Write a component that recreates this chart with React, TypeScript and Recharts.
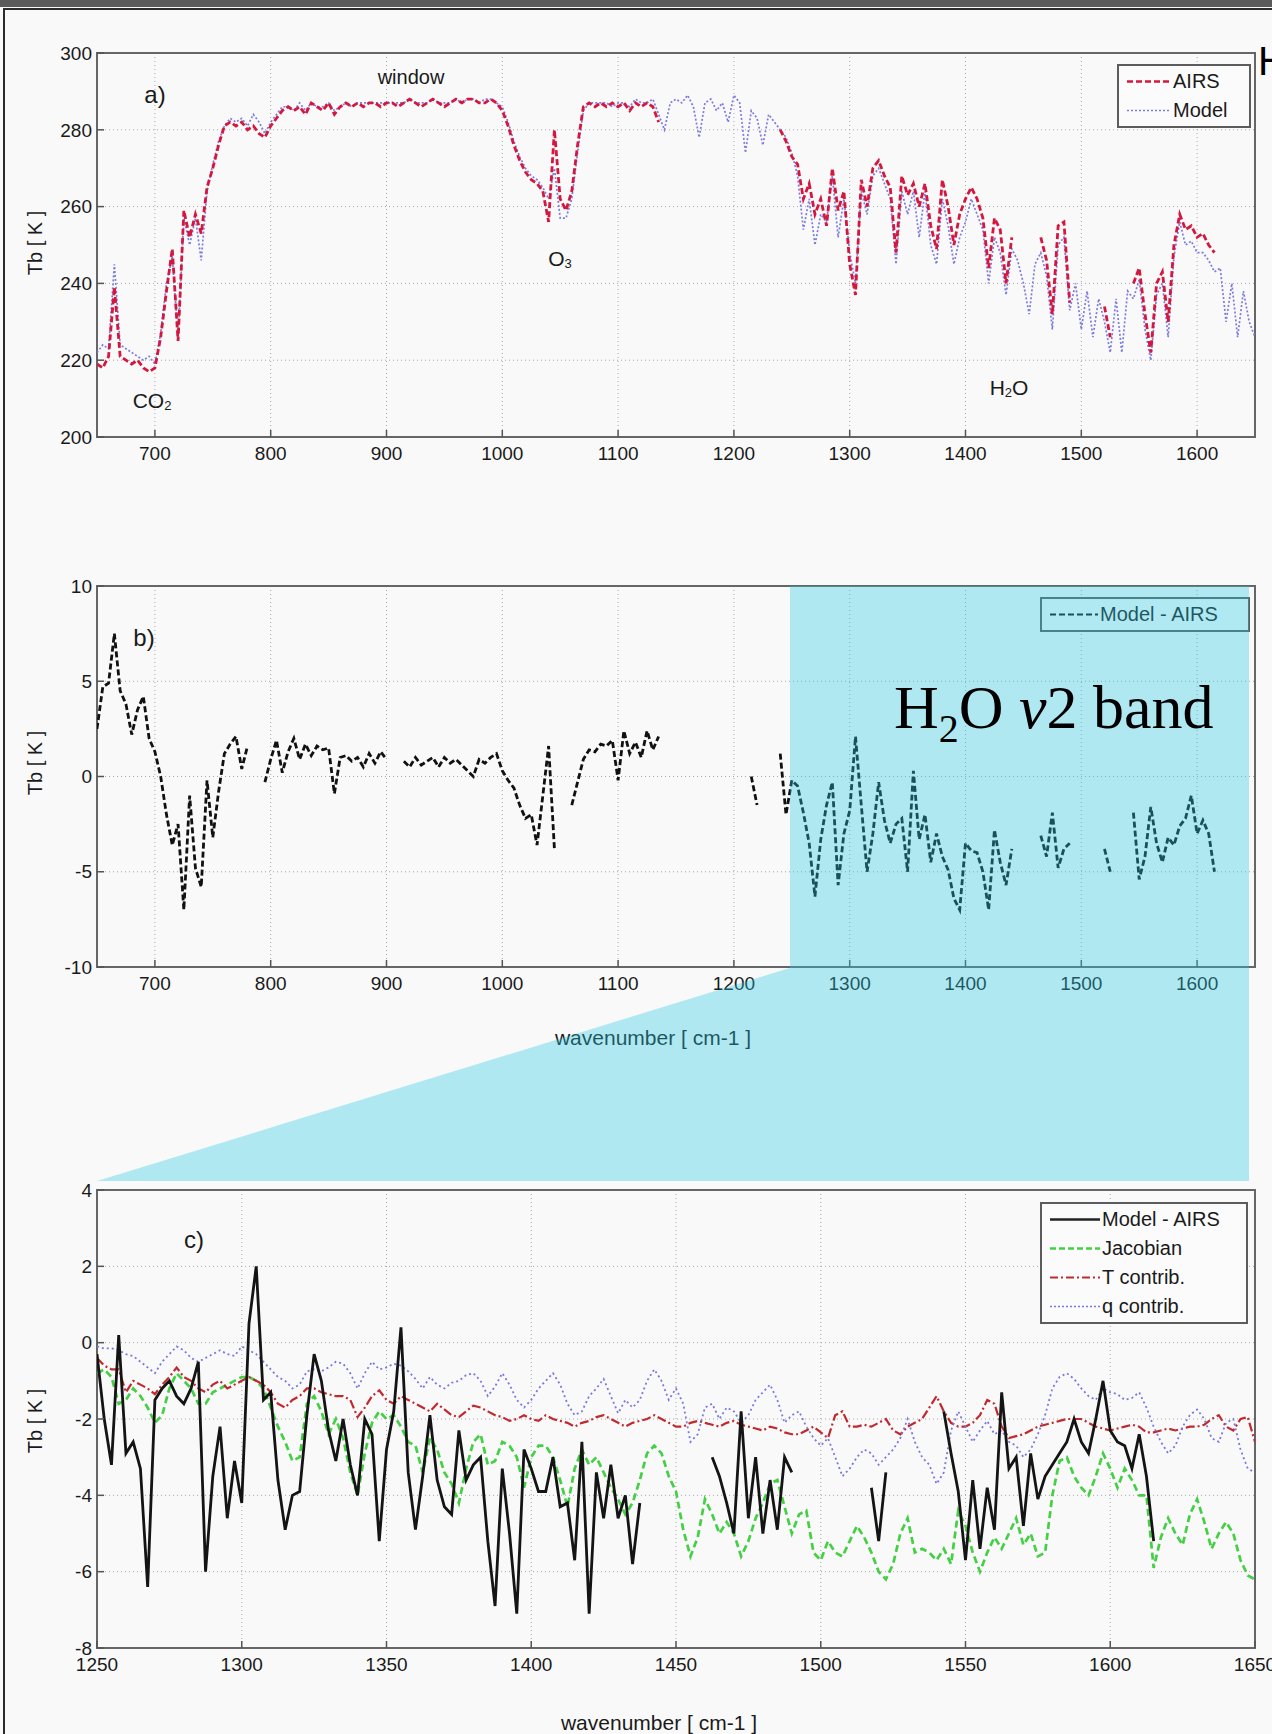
import React from "react";
import {
  LineChart,
  Line,
  XAxis,
  YAxis,
  CartesianGrid,
  ReferenceArea,
  Legend,
} from "recharts";

const FONT = '"Liberation Sans", Arial, Helvetica, sans-serif';
const SERIF = '"Liberation Serif", "Times New Roman", serif';

// ---------- panels a) and b): wavenumber grid (cm-1) ----------
const waveAB = [
  650, 655, 660, 665, 670, 675, 680, 685, 690, 695,
  700, 705, 710, 715, 720, 725, 730, 735, 740, 745,
  750, 755, 760, 765, 770, 775, 780, 785, 790, 795,
  800, 805, 810, 815, 820, 825, 830, 835, 840, 845,
  850, 855, 860, 865, 870, 875, 880, 885, 890, 895,
  900, 905, 910, 915, 920, 925, 930, 935, 940, 945,
  950, 955, 960, 965, 970, 975, 980, 985, 990, 995,
  1000, 1005, 1010, 1015, 1020, 1025, 1030, 1035, 1040, 1045,
  1050, 1055, 1060, 1065, 1070, 1075, 1080, 1085, 1090, 1095,
  1100, 1105, 1110, 1115, 1120, 1125, 1130, 1135, 1140, 1145,
  1150, 1155, 1160, 1165, 1170, 1175, 1180, 1185, 1190, 1195,
  1200, 1205, 1210, 1215, 1220, 1225, 1230, 1235, 1240, 1245,
  1250, 1255, 1260, 1265, 1270, 1275, 1280, 1285, 1290, 1295,
  1300, 1305, 1310, 1315, 1320, 1325, 1330, 1335, 1340, 1345,
  1350, 1355, 1360, 1365, 1370, 1375, 1380, 1385, 1390, 1395,
  1400, 1405, 1410, 1415, 1420, 1425, 1430, 1435, 1440, 1445,
  1450, 1455, 1460, 1465, 1470, 1475, 1480, 1485, 1490, 1495,
  1500, 1505, 1510, 1515, 1520, 1525, 1530, 1535, 1540, 1545,
  1550, 1555, 1560, 1565, 1570, 1575, 1580, 1585, 1590, 1595,
  1600, 1605, 1610, 1615, 1620, 1625, 1630, 1635, 1640, 1645,
  1650,
];

// a) brightness temperature [K]
const airsTb = [
  219, 218, 221, 239, 221, 220, 219, 220, 218, 217,
  218, 226, 238, 249, 225, 259, 252, 258, 253, 265,
  270, 276, 281, 282, 281, 282, 280, 281, 279, 278,
  281, 283, 285, 286, 285, 286, 284, 287, 286, 285,
  287, 284, 286, 287, 286, 287, 286, 287, 287, 286,
  287, 287, 286, 287, 288, 287, 286, 287, 288, 287,
  286, 287, 288, 287, 288, 288, 287, 287, 288, 287,
  285, 281, 276, 272, 269, 267, 266, 264, 256, 280,
  262, 259, 264, 276, 286, 287, 286, 287, 286, 287,
  286, 287, 285, 287, 286, 287, 286, 282, null, null,
  null, null, null, null, null, null, null, null, null, null,
  null, null, null, null, null, null, null, null, 280, 277,
  273, 271, 262, 266, 258, 262, 255, 270, 259, 264,
  245, 237, 267, 260, 270, 272, 268, 265, 248, 268,
  263, 266, 260, 266, 255, 249, 267, 260, 250, 258,
  262, 265, 262, 257, 244, 257, 254, 240, 252, null,
  null, null, null, 252, 246, 232, 255, 256, 235, null,
  null, null, null, null, 234, 226, null, null, null, 240,
  244, 232, 222, 240, 243, 230, 250, 258, 254, 255,
  252, 253, 250, 248, null, null, null, null, null, null,
  null,
];

const modelTb = [
  222, 224, 223, 245, 224, 223, 222, 221, 220, 221,
  219, 227, 240, 247, 226, 257, 250, 257, 246, 264,
  271, 277, 281, 283, 282, 283, 281, 284, 282, 279,
  282, 284, 286, 286, 285, 287, 285, 287, 286, 286,
  287, 285, 286, 287, 286, 287, 287, 287, 287, 287,
  287, 287, 287, 287, 288, 287, 287, 287, 288, 287,
  287, 287, 288, 287, 288, 288, 287, 288, 288, 287,
  286, 282, 277, 273, 270, 268, 267, 265, 262, 270,
  257, 257, 262, 274, 285, 287, 287, 287, 287, 286,
  287, 287, 286, 288, 287, 287, 288, 284, 280, 287,
  288, 287, 289, 286, 278, 287, 288, 285, 287, 282,
  289, 287, 274, 285, 283, 276, 284, 282, 280, 278,
  274, 268, 254, 262, 250, 258, 256, 268, 252, 262,
  248, 240, 264, 258, 268, 270, 266, 262, 245, 264,
  258, 264, 252, 264, 250, 245, 262, 255, 245, 252,
  256, 262, 258, 254, 240, 252, 248, 237, 249, 246,
  240, 232, 245, 248, 242, 228, 250, 252, 233, 240,
  228, 238, 226, 236, 230, 222, 236, 222, 238, 236,
  241, 228, 220, 237, 240, 226, 247, 256, 250, 251,
  248, 248, 246, 243, 244, 230, 240, 226, 238, 230,
  226,
];

// b) Model - AIRS [K]
const diffB = [
  2.5, 4.7, 4.9, 7.5, 4.5, 3.8, 2.2, 3.5, 4.2, 2.0,
  1.3, 0.0, -2.0, -3.6, -2.5, -7.0, -1.0, -4.8, -5.8, -0.2,
  -3.2, -0.8, 1.2, 1.7, 2.1, 0.4, 1.6, null, null, -0.3,
  0.9, 1.9, 0.2, 1.3, 2.0, 0.9, 1.7, 1.1, 1.6, 1.4,
  1.5, -0.9, 1.0, 1.1, 0.8, 1.0, 0.5, 1.2, 0.7, 1.3,
  0.9, null, null, 0.8, 0.5, 1.0, 0.6, 0.8, 1.0, 0.5,
  1.0, 0.7, 0.9, 0.6, 0.3, 0.0, 0.9, 0.7, 1.0, 1.2,
  0.3, -0.2, -0.6, -1.5, -2.2, -2.0, -3.6, -1.0, 1.6, -3.8,
  null, null, -1.5, -0.3, 0.9, 1.4, 1.3, 1.7, 1.6, 1.9,
  -0.2, 2.4, 1.2, 1.8, 1.0, 2.4, 1.4, 2.1, null, null,
  null, null, null, null, null, null, null, null, null, null,
  null, null, null, 0.0, -1.5, null, null, null, 1.2, -2.0,
  -0.2, -0.5, -1.9, -3.5, -6.3, -3.3, -1.5, -0.3, -5.7, -3.0,
  -1.8, 2.1, -1.5, -5.0, -3.0, -0.3, -2.3, -3.5, -2.5, -2.2,
  -5.0, 0.3, -3.3, -2.0, -4.5, -3.0, -4.2, -4.9, -6.4, -7.0,
  -3.5, -3.9, -4.0, -5.0, -7.0, -2.8, -4.5, -5.7, -3.8, null,
  null, null, null, -3.1, -4.2, -1.9, -4.8, -3.8, -3.5, null,
  null, null, null, null, -3.8, -5.0, null, null, null, -1.9,
  -5.4, -4.2, -1.6, -3.5, -4.5, -3.2, -3.6, -2.6, -2.2, -1.0,
  -3.0, -2.3, -3.0, -5.0, null, null, null, null, null, null,
  null,
];

// ---------- panel c): H2O v2 band zoom ----------
const waveC = [
  1250, 1252.5, 1255, 1257.5, 1260, 1262.5, 1265, 1267.5, 1270, 1272.5,
  1275, 1277.5, 1280, 1282.5, 1285, 1287.5, 1290, 1292.5, 1295, 1297.5,
  1300, 1302.5, 1305, 1307.5, 1310, 1312.5, 1315, 1317.5, 1320, 1322.5,
  1325, 1327.5, 1330, 1332.5, 1335, 1337.5, 1340, 1342.5, 1345, 1347.5,
  1350, 1352.5, 1355, 1357.5, 1360, 1362.5, 1365, 1367.5, 1370, 1372.5,
  1375, 1377.5, 1380, 1382.5, 1385, 1387.5, 1390, 1392.5, 1395, 1397.5,
  1400, 1402.5, 1405, 1407.5, 1410, 1412.5, 1415, 1417.5, 1420, 1422.5,
  1425, 1427.5, 1430, 1432.5, 1435, 1437.5, 1440, 1442.5, 1445, 1447.5,
  1450, 1452.5, 1455, 1457.5, 1460, 1462.5, 1465, 1467.5, 1470, 1472.5,
  1475, 1477.5, 1480, 1482.5, 1485, 1487.5, 1490, 1492.5, 1495, 1497.5,
  1500, 1502.5, 1505, 1507.5, 1510, 1512.5, 1515, 1517.5, 1520, 1522.5,
  1525, 1527.5, 1530, 1532.5, 1535, 1537.5, 1540, 1542.5, 1545, 1547.5,
  1550, 1552.5, 1555, 1557.5, 1560, 1562.5, 1565, 1567.5, 1570, 1572.5,
  1575, 1577.5, 1580, 1582.5, 1585, 1587.5, 1590, 1592.5, 1595, 1597.5,
  1600, 1602.5, 1605, 1607.5, 1610, 1612.5, 1615, 1617.5, 1620, 1622.5,
  1625, 1627.5, 1630, 1632.5, 1635, 1637.5, 1640, 1642.5, 1645, 1647.5,
  1650,
];

const diffC = [
  -0.3, -2.0, -3.2, 0.2, -2.9, -2.6, -3.3, -6.4, -1.5, -1.2,
  -1.0, -1.4, -1.6, -1.2, -0.5, -6.0, -3.5, -2.2, -4.6, -3.1,
  -4.2, 0.5, 2.0, -1.5, -1.3, -3.6, -4.9, -4.0, -3.9, -1.9,
  -0.3, -1.0, -2.3, -3.1, -2.0, -3.2, -4.0, -2.0, -2.4, -5.2,
  -2.8, -1.8, 0.4, -3.4, -4.9, -3.5, -1.9, -3.6, -4.3, -4.5,
  -2.3, -3.6, -3.2, -3.0, -5.2, -6.9, -3.3, -5.0, -7.1, -2.8,
  -3.3, -3.9, -3.9, -3.0, -4.3, -4.2, -5.7, -2.6, -7.1, -3.4,
  -4.6, -3.2, -4.6, -4.0, -5.8, -4.2, null, null, null, null,
  null, null, null, null, null, -3.0, -3.5, -4.2, -5.0, -1.8,
  -4.6, -3.0, -5.0, -3.6, -4.9, -3.0, -3.4, null, null, null,
  null, null, null, null, null, null, null, -3.8, -5.2, -3.4,
  null, null, null, null, null, null, null, -1.8, -2.9, -3.9,
  -5.7, -3.6, -5.4, -3.8, -4.9, -1.3, -3.3, -3.0, -4.8, -2.9,
  -4.1, -3.5, -3.2, -2.9, -2.6, -2.0, -2.6, -2.9, -2.0, -1.0,
  -2.3, -2.6, -2.7, -3.3, -2.4, -3.5, -5.2, null, null, null,
  null, null, null, null, null, null, null, null, null, null,
  null,
];

const jacobianC = [
  -0.8, -0.7, -0.9, -1.6, -1.5, -1.2, -1.4, -1.7, -2.1, -1.9,
  -1.2, -0.8, -1.0, -1.2, -1.6, -1.6, -1.3, -1.2, -1.1, -1.0,
  -0.9, -0.9, -1.0, -1.2, -1.7, -2.2, -2.6, -3.1, -3.0, -1.6,
  -1.4, -1.8, -2.4, -2.0, -2.5, -3.4, -4.0, -2.9, -2.1, -1.8,
  -2.0, -1.9, -2.2, -2.6, -2.7, -3.4, -2.5, -2.8, -3.4, -3.7,
  -4.2, -3.3, -2.6, -2.4, -3.2, -3.1, -2.6, -2.7, -3.0, -3.8,
  -3.0, -2.7, -2.7, -3.0, -3.6, -4.3, -3.3, -2.8, -3.2, -3.0,
  -3.4, -3.8, -4.1, -4.5, -4.2, -3.6, -2.9, -2.7, -2.9, -3.5,
  -3.9, -4.9, -5.6, -5.1, -4.1, -4.5, -5.0, -4.7, -5.0, -5.6,
  -5.2, -4.6, -4.2, -3.7, -3.6, -4.3, -5.0, -4.5, -4.4, -5.5,
  -5.7, -5.2, -5.5, -5.6, -5.2, -4.8, -5.1, -5.5, -6.0, -6.2,
  -5.8, -5.0, -4.6, -5.5, -5.4, -5.5, -5.7, -5.4, -5.8, -4.4,
  -4.8, -5.5, -6.0, -5.5, -5.1, -5.4, -5.0, -4.6, -5.3, -5.0,
  -5.6, -5.5, -4.0, -3.1, -3.0, -3.5, -3.8, -4.0, -3.5, -2.9,
  -3.3, -3.8, -3.3, -3.6, -4.0, -4.0, -5.9, -5.1, -4.6, -5.0,
  -5.3, -4.5, -4.1, -4.7, -5.4, -5.0, -4.7, -5.0, -5.7, -6.1,
  -6.2,
];

const tContribC = [
  -0.4, -0.6, -0.7, -0.7, -1.3, -1.0, -1.1, -1.2, -1.35, -1.1,
  -0.9, -0.65, -0.9, -1.0, -1.2, -1.3, -1.1, -1.0, -1.2, -1.1,
  -1.0, -0.9, -1.0, -1.1, -1.3, -1.6, -1.7, -1.5, -1.4, -1.2,
  -1.2, -1.3, -1.35, -1.4, -1.4, -1.5, -1.95, -1.7, -1.4, -1.25,
  -1.5, -1.6, -1.4, -1.5, -1.6, -1.7, -1.8, -1.6, -1.75, -1.9,
  -1.95, -1.8, -1.65, -1.7, -1.8, -1.9, -1.95, -2.05, -2.0, -1.9,
  -2.0, -2.05, -1.9, -2.0, -2.05, -2.1, -2.2, -2.1, -2.05, -1.95,
  -1.9, -2.0, -2.1, -2.2, -2.1, -2.05, -2.0, -1.9, -2.0, -2.1,
  -2.2, -2.2, -2.1, -2.05, -2.1, -2.15, -2.2, -2.1, -2.05, -2.15,
  -2.2, -2.25, -2.3, -2.2, -2.25, -2.35, -2.4, -2.4, -2.3, -2.2,
  -2.35, -2.5, -1.9, -1.8, -2.2, -2.2, -2.15, -2.2, -2.1, -2.0,
  -2.3, -2.4, -2.2, -2.1, -2.0, -1.7, -1.4, -1.8, -2.1, -2.2,
  -2.2, -2.1, -1.9, -1.5, -1.6, -2.2, -2.5, -2.45, -2.4, -2.3,
  -2.2, -2.15, -2.1, -2.05, -2.0, -2.0, -2.0, -2.1, -2.2, -2.25,
  -2.3, -2.25, -2.2, -2.15, -2.2, -2.35, -2.35, -2.3, -2.25, -2.3,
  -2.25, -2.2, -2.2, -2.15, -2.0, -1.9, -2.2, -2.3, -2.0, -1.95,
  -2.6,
];

const qContribC = [
  -0.1, -0.15, -0.15, -0.2, -0.3, -0.35, -0.5, -0.65, -0.8, -0.5,
  -0.3, -0.1, -0.2, -0.4, -0.5, -0.4, -0.3, -0.2, -0.3, -0.35,
  -0.1, -0.2, -0.3, -0.5, -0.7, -0.9, -1.0, -1.2, -1.1, -0.75,
  -0.7, -0.75, -0.65, -0.5, -0.55, -0.8, -1.2, -0.8, -0.5, -0.7,
  -0.65, -0.55, -0.6, -0.75, -0.95, -1.2, -0.9, -1.1, -1.2, -1.05,
  -1.0, -0.85, -0.8, -1.0, -1.4, -1.15, -0.8, -1.1, -1.5, -1.7,
  -1.5, -1.2, -1.0, -0.8, -1.1, -1.6, -1.9, -1.8, -1.4, -1.2,
  -0.95, -1.4, -1.85, -1.5, -1.7, -1.5, -1.0, -0.7, -1.0, -1.5,
  -1.2, -1.6, -2.6, -2.4, -1.7, -1.6, -2.0, -1.7, -1.8, -2.1,
  -1.9, -1.5, -1.3, -1.1, -1.5, -2.1, -1.9, -1.8, -2.2, -2.5,
  -2.7, -2.5, -3.0, -3.5, -3.3, -3.0, -2.8, -2.9, -3.2, -3.0,
  -2.8, -2.5, -2.0, -2.6, -3.0, -3.2, -3.7, -3.4, -2.3, -1.8,
  -2.2, -2.6, -2.3, -2.05, -2.4, -2.3, -2.6, -2.7, -3.0, -2.8,
  -2.4, -1.9, -1.2, -0.9, -0.8, -0.95, -1.2, -1.4, -1.5, -1.2,
  -1.3, -1.35, -1.5, -1.45, -1.3, -1.7, -2.2, -2.6, -2.9, -2.7,
  -2.2, -1.9, -1.75, -2.0, -2.5, -2.6, -2.1, -2.0, -2.8, -3.3,
  -3.4,
];

// tick labels
const ticksAB = [700, 800, 900, 1000, 1100, 1200, 1300, 1400, 1500, 1600];
const ticksA = [200, 220, 240, 260, 280, 300];
const ticksB = [-10, -5, 0, 5, 10];
const ticksCx = [1250, 1300, 1350, 1400, 1450, 1500, 1550, 1600, 1650];
const ticksCy = [-8, -6, -4, -2, 0, 2, 4];

const rowsA = waveAB.map((w, i) => ({ w, airs: airsTb[i], model: modelTb[i] }));
const rowsB = waveAB.map((w, i) => ({ w, diff: diffB[i] }));
const rowsC = waveC.map((w, i) => ({
  w,
  diff: diffC[i],
  jac: jacobianC[i],
  t: tContribC[i],
  q: qContribC[i],
}));

const C_AIRS = "#d4173f";
const C_MODEL = "#7c7ce0";
const C_GREEN = "#44cf44";
const C_TRED = "#c02a2e";
const C_QBLUE = "#7878e0";

type LegendItem = { label: string; color: string; dash?: string; width: number };

const legendA: LegendItem[] = [
  { label: "AIRS", color: C_AIRS, dash: "6 3", width: 2.5 },
  { label: "Model", color: C_MODEL, dash: "2 2", width: 1.6 },
];
const legendB: LegendItem[] = [{ label: "Model - AIRS", color: "#111", dash: "6 3", width: 2.2 }];
const legendC: LegendItem[] = [
  { label: "Model - AIRS", color: "#222", width: 2.4 },
  { label: "Jacobian", color: C_GREEN, dash: "6 3", width: 2.4 },
  { label: "T contrib.", color: C_TRED, dash: "8 3 2 3", width: 2 },
  { label: "q contrib.", color: C_QBLUE, dash: "2 2", width: 1.6 },
];

const LegendBox = ({ items, width, sample }: { items: LegendItem[]; width: number; sample: number }) => (
  <div
    style={{
      width,
      boxSizing: "border-box",
      border: "2px solid #5c5c5c",
      background: "#fbfbfb",
      padding: "1px 4px 1px 8px",
      fontFamily: FONT,
      fontSize: 20,
      color: "#1a1a1a",
    }}
  >
    {items.map((it) => (
      <div key={it.label} style={{ display: "flex", alignItems: "center", height: 29, whiteSpace: "nowrap" }}>
        <svg width={sample} height={29} style={{ flex: "none" }}>
          <line x1={0} x2={sample} y1={14.5} y2={14.5} stroke={it.color} strokeWidth={it.width} strokeDasharray={it.dash} />
        </svg>
        <span style={{ marginLeft: 2 }}>{it.label}</span>
      </div>
    ))}
  </div>
);

const tickStyle = { fontSize: 19, fill: "#1a1a1a", fontFamily: FONT };
const tickLine = { stroke: "#555", strokeWidth: 1.5 };

// common frame pieces: inward ticks on all four sides, MATLAB-like box
function frame(xDomain: number[], xTicks: number[], yDomain: number[], yTicks: number[]) {
  return [
    <CartesianGrid key="g" stroke="#a8a8a8" strokeDasharray="1 3" />,
    <XAxis
      key="x"
      dataKey="w"
      type="number"
      domain={xDomain}
      ticks={xTicks}
      interval={0}
      allowDataOverflow
      height={30}
      tickSize={-7}
      tickMargin={17}
      axisLine={false}
      tickLine={tickLine}
      tick={tickStyle}
    />,
    <XAxis
      key="xt"
      xAxisId="top"
      orientation="top"
      dataKey="w"
      type="number"
      domain={xDomain}
      ticks={xTicks}
      interval={0}
      allowDataOverflow
      height={0}
      tickSize={-7}
      axisLine={false}
      tickLine={tickLine}
      tick={false}
    />,
    <YAxis
      key="y"
      type="number"
      domain={yDomain}
      ticks={yTicks}
      interval={0}
      allowDataOverflow
      width={60}
      tickSize={-7}
      tickMargin={12}
      axisLine={false}
      tickLine={tickLine}
      tick={tickStyle}
    />,
    <YAxis
      key="yr"
      yAxisId="right"
      orientation="right"
      type="number"
      domain={yDomain}
      ticks={yTicks}
      interval={0}
      allowDataOverflow
      width={0}
      tickSize={-7}
      axisLine={false}
      tickLine={tickLine}
      tick={false}
    />,
  ];
}

function box(x1: number, x2: number, y1: number, y2: number) {
  return (
    <ReferenceArea x1={x1} x2={x2} y1={y1} y2={y2} fill="none" fillOpacity={0} stroke="#666" strokeWidth={2} />
  );
}

const legendProps = { layout: "vertical" as const, align: "center" as const, verticalAlign: "middle" as const };

export default function App() {
  return (
    <div
      style={{
        position: "absolute",
        left: 0,
        top: 0,
        width: 1272,
        height: 1734,
        background: "#f9f9f9",
        overflow: "hidden",
        fontFamily: FONT,
      }}
    >
      <div style={{ position: "absolute", left: 0, top: 0, width: 1272, height: 7, background: "#5b5b5b" }} />
      <div
        style={{
          position: "absolute",
          left: 3,
          top: 8,
          width: 1320,
          height: 1800,
          border: "2px solid #2c2c2c",
        }}
      />

      {/* a) spectra */}
      <div style={{ position: "absolute", left: 0, top: 0 }}>
        <LineChart width={1272} height={480} data={rowsA} margin={{ top: 53, right: 17, bottom: 13, left: 37 }}>
          {frame([650, 1650], ticksAB, [200, 300], ticksA)}
          <Line dataKey="model" stroke={C_MODEL} strokeWidth={1.7} strokeDasharray="2 2" dot={false} isAnimationActive={false} />
          <Line dataKey="airs" stroke={C_AIRS} strokeWidth={2.8} strokeDasharray="6 3" dot={false} isAnimationActive={false} />
          {box(650, 1650, 200, 300)}
          <Legend
            {...legendProps}
            wrapperStyle={{ position: "absolute", left: 1117, top: 64, width: 134 }}
            content={() => <LegendBox items={legendA} width={134} sample={44} />}
          />
        </LineChart>
      </div>

      {/* b) difference */}
      <div style={{ position: "absolute", left: 0, top: 540 }}>
        <LineChart width={1272} height={470} data={rowsB} margin={{ top: 46, right: 17, bottom: 13, left: 37 }}>
          {frame([650, 1650], ticksAB, [-10, 10], ticksB)}
          <Line dataKey="diff" stroke="#111" strokeWidth={2.8} strokeDasharray="6 3" dot={false} isAnimationActive={false} />
          {box(650, 1650, -10, 10)}
          <Legend
            {...legendProps}
            wrapperStyle={{ position: "absolute", left: 1040, top: 57, width: 210 }}
            content={() => <LegendBox items={legendB} width={210} sample={48} />}
          />
        </LineChart>
      </div>

      {/* c) water vapour band */}
      <div style={{ position: "absolute", left: 0, top: 1150 }}>
        <LineChart width={1272} height={540} data={rowsC} margin={{ top: 40, right: 17, bottom: 12, left: 37 }}>
          {frame([1250, 1650], ticksCx, [-8, 4], ticksCy)}
          <Line dataKey="jac" stroke={C_GREEN} strokeWidth={2.7} strokeDasharray="7 4" dot={false} isAnimationActive={false} />
          <Line dataKey="t" stroke={C_TRED} strokeWidth={2.2} strokeDasharray="9 3 2 3" dot={false} isAnimationActive={false} />
          <Line dataKey="q" stroke={C_QBLUE} strokeWidth={1.8} strokeDasharray="2 3" dot={false} isAnimationActive={false} />
          <Line dataKey="diff" stroke="#141414" strokeWidth={2.8} dot={false} isAnimationActive={false} />
          {box(1250, 1650, -8, 4)}
          <Legend
            {...legendProps}
            wrapperStyle={{ position: "absolute", left: 1040, top: 52, width: 208 }}
            content={() => <LegendBox items={legendC} width={208} sample={50} />}
          />
        </LineChart>
      </div>

      {/* annotations below the highlight */}
      <svg width={1272} height={1734} style={{ position: "absolute", left: 0, top: 0, pointerEvents: "none" }}>
        <g fontFamily={FONT} fill="#1a1a1a" textAnchor="middle" dominantBaseline="central">
          <text x={155} y={94} fontSize={24}>a)</text>
          <text x={411} y={77} fontSize={20}>window</text>
          <text x={560} y={258} fontSize={21}>
            O<tspan fontSize={13} dy={5}>3</tspan>
          </text>
          <text x={152} y={400} fontSize={21}>
            CO<tspan fontSize={13} dy={5}>2</tspan>
          </text>
          <text x={1009} y={387} fontSize={21}>
            H<tspan fontSize={13} dy={5}>2</tspan>
            <tspan dy={-5}>O</tspan>
          </text>
          <text x={144} y={637} fontSize={24}>b)</text>
          <text x={194} y={1239} fontSize={24}>c)</text>
          <text x={35} y={243} fontSize={20} transform="rotate(-90 35 243)">Tb [ K ]</text>
          <text x={35} y={763} fontSize={20} transform="rotate(-90 35 763)">Tb [ K ]</text>
          <text x={35} y={1421} fontSize={20} transform="rotate(-90 35 1421)">Tb [ K ]</text>
          <text x={653} y={1037} fontSize={21}>wavenumber [ cm-1 ]</text>
          <text x={659} y={1722} fontSize={21}>wavenumber [ cm-1 ]</text>
        </g>
        <text x={1258} y={75} fontFamily={FONT} fontSize={40} fill="#000">H</text>
      </svg>

      {/* highlighted band linking b) to c) */}
      <svg width={1272} height={1734} style={{ position: "absolute", left: 0, top: 0, pointerEvents: "none" }}>
        <polygon points="790,586 1249,586 1249,1181 97,1181 790,968" fill="rgb(40,200,225)" fillOpacity={0.35} />
        <text x={894} y={728} fontFamily={SERIF} fontSize={62} fill="#000">
          H<tspan fontSize={40} dy={14}>2</tspan>
          <tspan dy={-14}>O </tspan>
          <tspan fontStyle="italic">ν</tspan>2 band
        </text>
      </svg>
    </div>
  );
}
